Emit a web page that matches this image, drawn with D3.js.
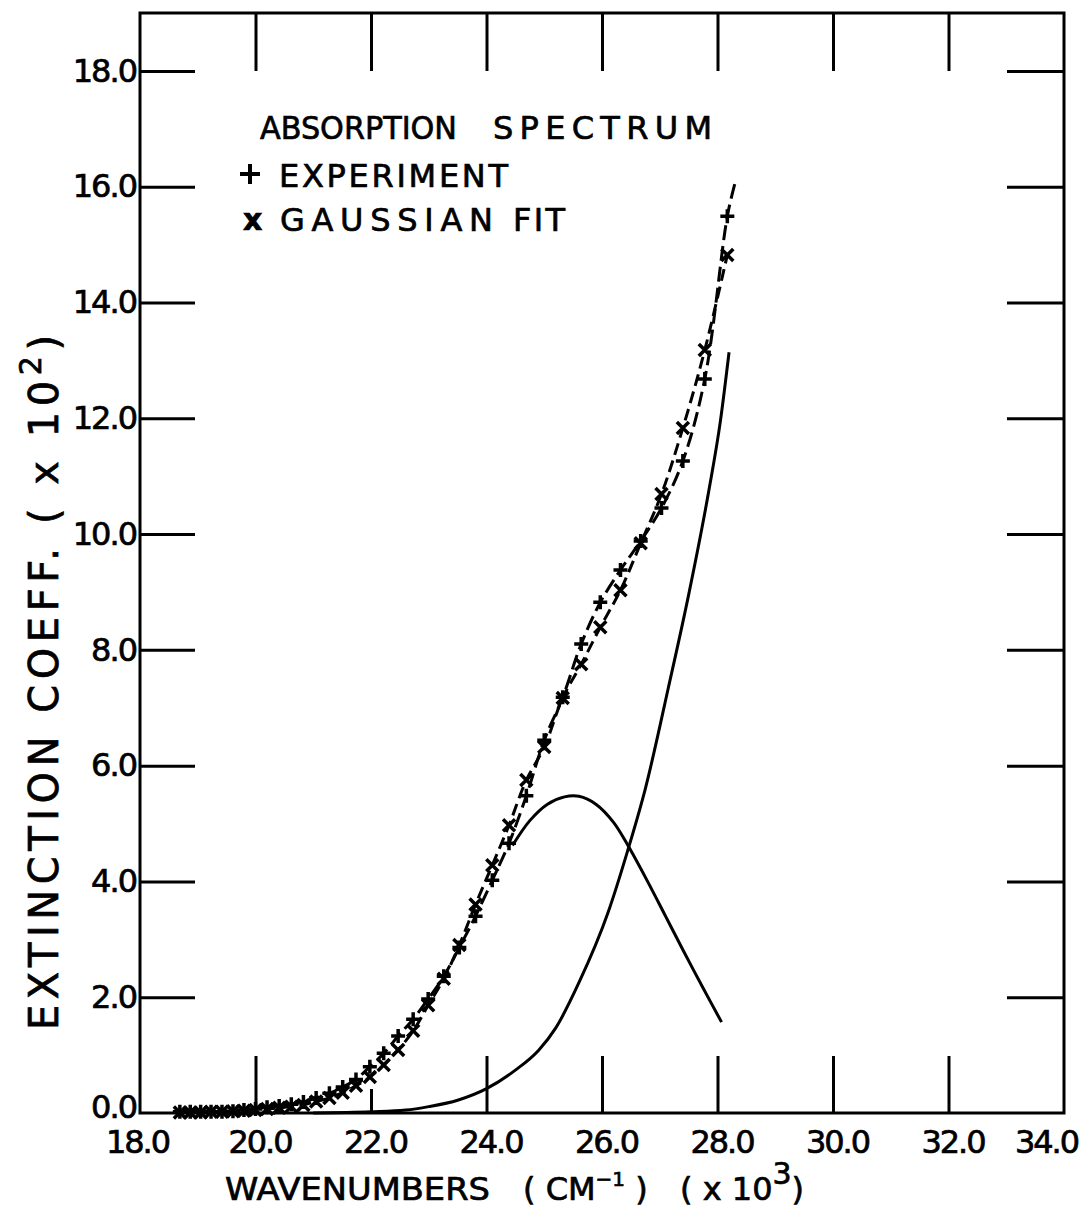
<!DOCTYPE html>
<html>
<head>
<meta charset="utf-8">
<title>Absorption Spectrum</title>
<script src="https://d3js.org/d3.v7.min.js"></script>
<style>
  body { margin: 0; background: #fff; }
  svg text { font-family: "DejaVu Sans", sans-serif; fill: #000; stroke: #000; stroke-width: 0.7px; }
</style>
</head>
<body>
<div id="chart"></div>
<script>
// wavenumbers of the measured points (x 10^3 cm^-1)
const wavenumbers = [18.69, 18.87, 19.05, 19.23, 19.42, 19.61, 19.80, 20.00, 20.20, 20.41,
  20.62, 20.83, 21.05, 21.28, 21.51, 21.74, 21.98, 22.22, 22.47, 22.73,
  22.99, 23.26, 23.53, 23.81, 24.10, 24.39, 24.69, 25.00, 25.32, 25.64,
  25.97, 26.32, 26.67, 27.03, 27.40, 27.78, 28.17];

// extinction coefficient (x 10^2)
const experiment = [0.02, 0.02, 0.02, 0.02, 0.02, 0.03, 0.05, 0.07, 0.10, 0.12,
  0.15, 0.19, 0.26, 0.34, 0.45, 0.58, 0.80, 1.03, 1.33, 1.62,
  1.97, 2.36, 2.86, 3.40, 4.02, 4.66, 5.48, 6.44, 7.18, 8.10,
  8.82, 9.38, 9.88, 10.45, 11.26, 12.68, 15.49];

const gaussianFit = [0.01, 0.01, 0.01, 0.02, 0.02, 0.03, 0.04, 0.05, 0.07, 0.09,
  0.11, 0.14, 0.20, 0.26, 0.35, 0.47, 0.62, 0.83, 1.09, 1.42,
  1.86, 2.32, 2.90, 3.60, 4.28, 4.97, 5.75, 6.32, 7.17, 7.75,
  8.39, 9.03, 9.84, 10.69, 11.83, 13.18, 14.82];

// dashed experimental curve runs on past the last point
const expTail = [[28.30, 16.05]];

// the two gaussian components (solid curves)
const band1X = [24.45, 24.75, 25.05, 25.35, 25.60, 25.90, 26.20, 26.45, 26.80, 27.10, 27.40, 27.75, 28.07];
const band1Y = [4.62, 5.05, 5.33, 5.46, 5.47, 5.33, 5.02, 4.62, 3.98, 3.40, 2.82, 2.16, 1.57];

const band2X = [21.00, 22.00, 22.60, 23.00, 23.50, 24.00, 24.50, 24.90, 25.20, 25.60, 26.10, 26.45, 26.75, 27.15, 27.50, 27.85, 28.05, 28.20];
const band2Y = [0.00, 0.02, 0.05, 0.11, 0.22, 0.42, 0.74, 1.08, 1.47, 2.25, 3.45, 4.55, 5.60, 7.35, 8.95, 10.75, 11.95, 13.14];

const xTicks = [18, 20, 22, 24, 26, 28, 30, 32, 34];
const yTicks = [0, 2, 4, 6, 8, 10, 12, 14, 16, 18];

const W = 1088, H = 1211;
const margin = { left: 140, right: 1064, top: 13, bottom: 1113 };

const svg = d3.select('#chart').append('svg')
  .attr('width', W).attr('height', H);

const x = d3.scaleLinear().domain([18, 34]).range([margin.left, margin.right]);
const y = d3.scaleLinear().domain([0, 19]).range([margin.bottom, margin.top]);

// frame
svg.append('rect')
  .attr('x', margin.left).attr('y', margin.top)
  .attr('width', margin.right - margin.left).attr('height', margin.bottom - margin.top)
  .attr('fill', 'none').attr('stroke', '#000').attr('stroke-width', 3);

const inner = xTicks.filter(d => d > 18 && d < 34);
const innerY = yTicks.filter(d => d > 0);

function styleTicks(g) {
  g.select('.domain').remove();
  g.selectAll('.tick line').attr('stroke', '#000').attr('stroke-width', 3);
}

// inward ticks on all four sides
svg.append('g').attr('transform', `translate(0,${margin.bottom})`)
  .call(d3.axisTop(x).tickValues(inner).tickSize(57).tickFormat(''))
  .call(styleTicks)
  .selectAll('.tick line').filter(d => d === 22).attr('y2', -24);

svg.append('g').attr('transform', `translate(0,${margin.top})`)
  .call(d3.axisBottom(x).tickValues(inner).tickSize(58).tickFormat(''))
  .call(styleTicks);

svg.append('g').attr('transform', `translate(${margin.left},0)`)
  .call(d3.axisRight(y).tickValues(innerY).tickSize(55).tickFormat(''))
  .call(styleTicks);

svg.append('g').attr('transform', `translate(${margin.right},0)`)
  .call(d3.axisLeft(y).tickValues(innerY).tickSize(57).tickFormat(''))
  .call(styleTicks);

// tick labels
const fmt = d3.format('.1f');
const xLab = svg.append('g').attr('transform', `translate(0,${margin.bottom})`)
  .call(d3.axisBottom(x).tickValues(xTicks).tickSize(0).tickPadding(17).tickFormat(fmt));
xLab.select('.domain').remove();
xLab.selectAll('text')
  .attr('font-size', 32).attr('letter-spacing', -2)
  .attr('font-family', '"DejaVu Sans", sans-serif')
  .attr('dx', d => d === 34 ? -18 : (d === 18 ? -3 : 4));

const yLab = svg.append('g').attr('transform', `translate(${margin.left},0)`)
  .call(d3.axisLeft(y).tickValues(yTicks).tickSize(0).tickPadding(4).tickFormat(fmt));
yLab.select('.domain').remove();
yLab.selectAll('text')
  .attr('font-size', 32).attr('letter-spacing', -2)
  .attr('font-family', '"DejaVu Sans", sans-serif')
  .attr('dy', d => d === 0 ? '0.14em' : '0.32em');

// solid gaussian components
const curve = d3.line().x(d => x(d[0])).y(d => y(d[1])).curve(d3.curveCatmullRom);
const smooth = d3.line().x(d => x(d[0])).y(d => y(d[1])).curve(d3.curveMonotoneX);

svg.append('path')
  .datum(band1X.map((v, i) => [v, band1Y[i]]))
  .attr('d', curve)
  .attr('fill', 'none').attr('stroke', '#000').attr('stroke-width', 3);

svg.append('path')
  .datum(band2X.map((v, i) => [v, band2Y[i]]))
  .attr('d', smooth)
  .attr('fill', 'none').attr('stroke', '#000').attr('stroke-width', 3);

// dashed data lines
const expPts = wavenumbers.map((v, i) => [v, experiment[i]]);
const fitPts = wavenumbers.map((v, i) => [v, gaussianFit[i]]);

svg.append('path')
  .datum(expPts.concat(expTail))
  .attr('d', curve)
  .attr('fill', 'none').attr('stroke', '#000').attr('stroke-width', 3)
  .attr('stroke-dasharray', '15,6');

svg.append('path')
  .datum(fitPts)
  .attr('d', curve)
  .attr('fill', 'none').attr('stroke', '#000').attr('stroke-width', 3)
  .attr('stroke-dasharray', '12,6')
  .attr('stroke-dashoffset', 6);

// markers
svg.append('g').selectAll('path')
  .data(expPts).join('path')
  .attr('transform', d => `translate(${x(d[0])},${y(d[1])})`)
  .attr('d', 'M-7,0H7M0,-7V7')
  .attr('stroke', '#000').attr('stroke-width', 3.5);

svg.append('g').selectAll('path')
  .data(fitPts).join('path')
  .attr('transform', d => `translate(${x(d[0])},${y(d[1])})`)
  .attr('d', 'M-6,-6L6,6M-6,6L6,-6')
  .attr('stroke', '#000').attr('stroke-width', 3.5);

// legend
svg.append('text').attr('x', 260).attr('y', 139).attr('font-size', 32)
  .attr('textLength', 197).attr('lengthAdjust', 'spacingAndGlyphs').text('ABSORPTION');
svg.append('text').attr('x', 493).attr('y', 139).attr('font-size', 32)
  .attr('textLength', 219).attr('lengthAdjust', 'spacing').text('SPECTRUM');

svg.append('path').attr('d', 'M240,174H260M250,164V184')
  .attr('stroke', '#000').attr('stroke-width', 4);
svg.append('text').attr('x', 279).attr('y', 187).attr('font-size', 32)
  .attr('textLength', 229).attr('lengthAdjust', 'spacing').text('EXPERIMENT');

svg.append('text').attr('x', 243).attr('y', 230).attr('font-size', 30)
  .attr('font-weight', 'bold').text('x');
svg.append('text').attr('x', 280).attr('y', 231).attr('font-size', 32)
  .attr('textLength', 213).attr('lengthAdjust', 'spacing').text('GAUSSIAN');
svg.append('text').attr('x', 513).attr('y', 231).attr('font-size', 32)
  .attr('textLength', 52).attr('lengthAdjust', 'spacing').text('FIT');

// x axis title
svg.append('text').attr('x', 225).attr('y', 1200).attr('font-size', 32)
  .attr('textLength', 265).attr('lengthAdjust', 'spacingAndGlyphs').text('WAVENUMBERS');

const cm = svg.append('text').attr('x', 523).attr('y', 1200).attr('font-size', 32);
cm.append('tspan').text('( CM');
cm.append('tspan').attr('font-size', 20).attr('dy', -14).text('−1');
cm.append('tspan').attr('dy', 14).text(' )');

const pw = svg.append('text').attr('x', 680).attr('y', 1200).attr('font-size', 32);
pw.append('tspan').text('( x 10');
pw.append('tspan').attr('font-size', 30).attr('dy', -16).text('3');
pw.append('tspan').attr('dy', 16).text(')');

// y axis title
const yt = svg.append('text')
  .attr('transform', 'translate(58,1030) rotate(-90)')
  .attr('font-size', 40)
  .attr('textLength', 695).attr('lengthAdjust', 'spacing');
yt.append('tspan').text('EXTINCTION COEFF. ( x 10');
yt.append('tspan').attr('font-size', 30).attr('dy', -17).text('2');
yt.append('tspan').attr('dy', 17).text(')');
</script>
</body>
</html>
